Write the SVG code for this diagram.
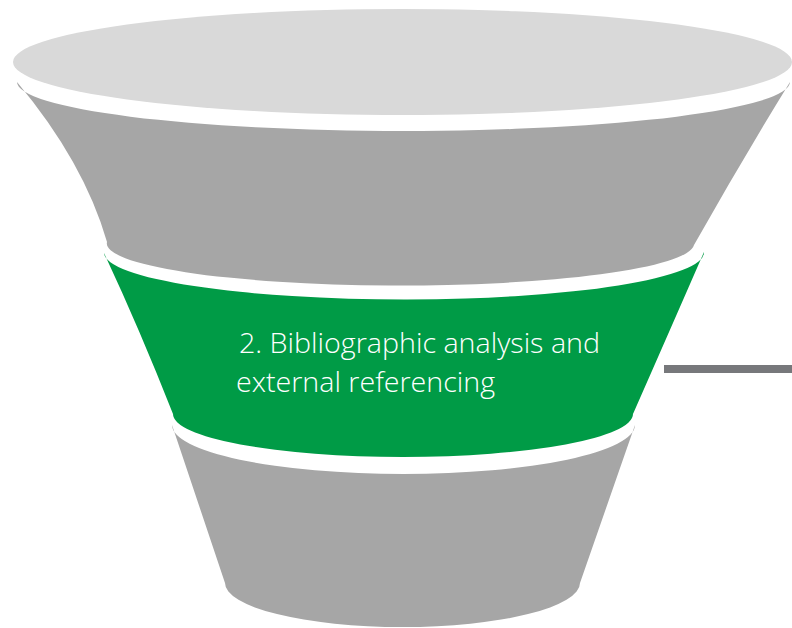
<svg xmlns="http://www.w3.org/2000/svg" width="792" height="628" viewBox="0 0 792 628">
  <style>
    .rim { fill: #D9D9D9; }
    .band { fill: #A6A6A6; }
    .active { fill: #009B46; }
    .label { fill: #FFFFFF; font-family: "Open Sans", "Liberation Sans", sans-serif; font-weight: 300; font-size: 27px; }
    .leader { fill: #77787B; }
  </style>

  <!-- funnel mouth -->
  <g id="funnel-top">
    <ellipse class="rim" cx="402.5" cy="62" rx="389.5" ry="53"/>
  </g>

  <!-- stage 1 -->
  <g id="stage-1">
    <path class="band" d="M17,82 A386.5,49 0 0 0 790,82 Q742,160 694,245 A293.5,42 0 0 1 107,242 Q84,162 17,82 Z"/>
  </g>

  <!-- stage 2 (highlighted) -->
  <g id="stage-2">
    <path class="active" d="M104,253 A300,47 0 0 0 704,252 Q670,330 633,414 A230,43 0 0 1 173,414 Q140,330 104,253 Z"/>
    <text class="label" x="239" y="353" textLength="361" lengthAdjust="spacingAndGlyphs">2. Bibliographic analysis and</text>
    <text class="label" x="236" y="392" textLength="259" lengthAdjust="spacingAndGlyphs">external referencing</text>
  </g>

  <!-- stage 3 -->
  <g id="stage-3">
    <path class="band" d="M172,425 A231.5,49 0 0 0 635,425 L580,583 A177.5,44 0 0 1 225,583 Z"/>
  </g>

  <!-- leader line -->
  <g id="connectors">
    <rect class="leader" x="664" y="365" width="128" height="8"/>
  </g>
</svg>
